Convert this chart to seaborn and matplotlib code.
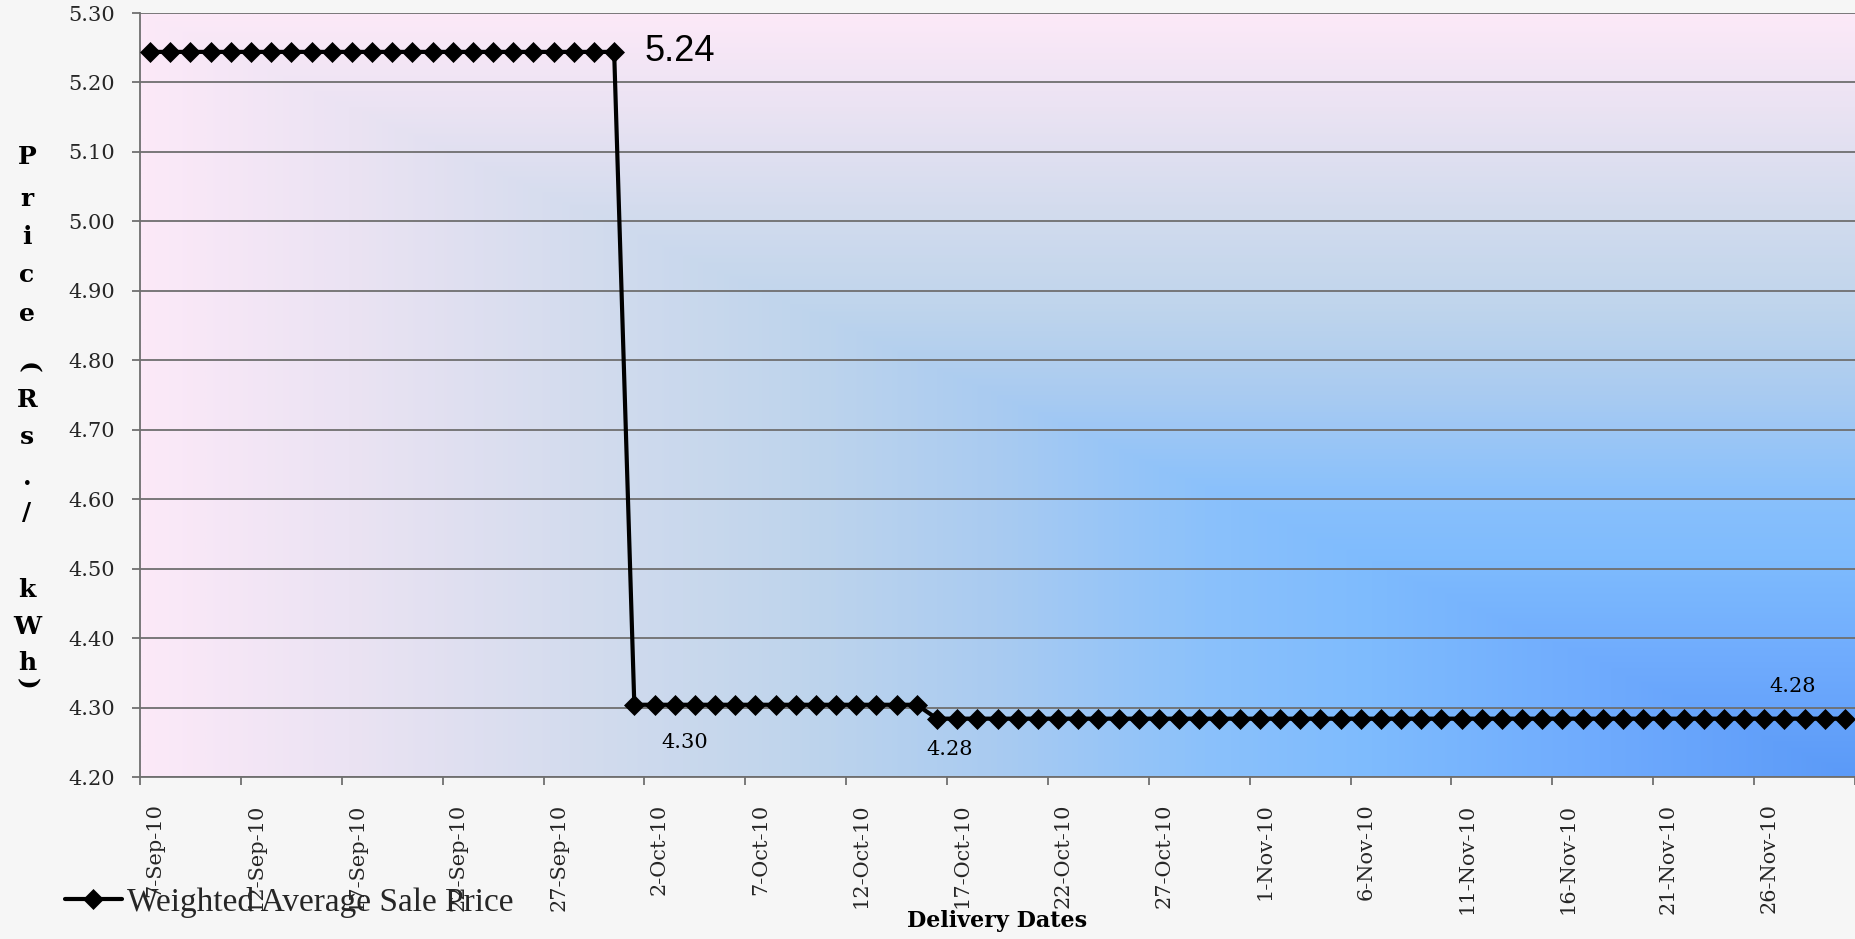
import numpy as np
import pandas as pd
import matplotlib
matplotlib.use("Agg")
import matplotlib.pyplot as plt
from matplotlib.colors import LinearSegmentedColormap
from matplotlib.transforms import ScaledTranslation
import seaborn as sns

# ---- data -------------------------------------------------------------
start_date = "2010-09-07"
n_days = 85
price_high = 5.244     # 7-Sep .. 30-Sep
price_mid = 4.304      # 1-Oct .. 15-Oct
price_low = 4.284      # 16-Oct .. 30-Nov
days_high = 24
days_mid = 15
days_low = 46

series_name = "Weighted Average Sale Price"
x_title = "Delivery Dates"
y_title_chars = ["P", "r", "i", "c", "e", "(", "R", "s", ".", "/", "k", "W", "h", ")"]

y_ticks = [4.20, 4.30, 4.40, 4.50, 4.60, 4.70, 4.80, 4.90, 5.00, 5.10, 5.20, 5.30]
x_tick_dates = ["2010-09-07", "2010-09-12", "2010-09-17", "2010-09-22", "2010-09-27",
                "2010-10-02", "2010-10-07", "2010-10-12", "2010-10-17", "2010-10-22",
                "2010-10-27", "2010-11-01", "2010-11-06", "2010-11-11", "2010-11-16",
                "2010-11-21", "2010-11-26"]
x_tick_labels = ["7-Sep-10", "12-Sep-10", "17-Sep-10", "22-Sep-10", "27-Sep-10",
                 "2-Oct-10", "7-Oct-10", "12-Oct-10", "17-Oct-10", "22-Oct-10",
                 "27-Oct-10", "1-Nov-10", "6-Nov-10", "11-Nov-10", "16-Nov-10",
                 "21-Nov-10", "26-Nov-10"]

# data labels: index of the labelled point
label_points = [23, 24, 39, 81]

dates = pd.date_range(start_date, periods=n_days, freq="D")
prices = np.array([price_high] * days_high + [price_mid] * days_mid + [price_low] * days_low)
df = pd.DataFrame({"date": dates, "price": prices})

# ---- figure -----------------------------------------------------------
W, H, DPI = 1856, 939, 100
sns.set_theme(style="white")
plt.rcParams["font.family"] = ["DejaVu Serif"]
SERIF = ["DejaVu Serif"]

fig = plt.figure(figsize=(W / DPI, H / DPI), dpi=DPI)
fig.patch.set_facecolor("#f6f6f6")

left, right, top, bottom = 140, 1855, 13, 777
pos = [left / W, 1 - bottom / H, (right - left) / W, (bottom - top) / H]

# gradient plot-area fill (pink corner top-left, blue corner bottom-right)
bg = fig.add_axes(pos, zorder=0)
grad_cmap = LinearSegmentedColormap.from_list(
    "plotfill",
    [(0.00, "#fce9f8"), (0.12, "#ebe3f3"), (0.25, "#d4dcee"), (0.38, "#c0d5ec"),
     (0.50, "#a9cbf1"), (0.62, "#8bc1fb"), (0.72, "#7ebbfe"), (0.86, "#6eaafd"),
     (1.00, "#5b9af8")])
gu = np.linspace(0, 1, 600)
gv = np.linspace(0, 1, 400)
U, V = np.meshgrid(gu, gv)
bg.imshow(np.minimum(U, V), cmap=grad_cmap, aspect="auto", origin="upper",
          extent=(0, 1, 0, 1), interpolation="bilinear")
bg.set_axis_off()

ax = fig.add_axes(pos, zorder=1)
ax.set_facecolor("none")

plot_x = df["date"] + pd.Timedelta(hours=12)
sns.lineplot(x=plot_x, y=df["price"], ax=ax, color="black", linewidth=3,
             marker="D", markersize=10, markeredgecolor="black", markeredgewidth=0.5,
             label=series_name, legend=False, zorder=5)

# axes limits and grid
ax.set_ylim(y_ticks[0], y_ticks[-1])
ax.set_xlim(pd.Timestamp(start_date), pd.Timestamp(start_date) + pd.Timedelta(days=n_days))
ax.set_yticks(y_ticks)
ax.set_yticklabels([f"{v:.2f}" for v in y_ticks], fontsize=15, family=SERIF)
ax.yaxis.grid(True, color="#6f6f6f", linewidth=1.3)
ax.xaxis.grid(False)
ax.set_axisbelow(True)

tick_pos = [pd.Timestamp(d) for d in x_tick_dates] + [pd.Timestamp(start_date) + pd.Timedelta(days=n_days)]
ax.set_xticks(tick_pos)
ax.set_xticklabels([])
ax.set_xticks([pd.Timestamp(d) + pd.Timedelta(hours=12) for d in x_tick_dates], minor=True)
ax.set_xticklabels(x_tick_labels, minor=True, rotation=90, fontsize=15, family=SERIF)
ax.tick_params(axis="x", which="major", direction="out", length=6, width=1.3,
               color="#6f6f6f", bottom=True)
ax.tick_params(axis="x", which="minor", length=0, pad=19, bottom=True)
ax.tick_params(axis="y", direction="out", length=6, width=1.3, color="#6f6f6f",
               left=True, pad=12)
shift = ScaledTranslation(5 / DPI, 0, fig.dpi_scale_trans)
for lbl in ax.get_xticklabels(minor=True):
    lbl.set_transform(lbl.get_transform() + shift)

for side in ["top", "right"]:
    ax.spines[side].set_visible(False)
for side in ["left", "bottom"]:
    ax.spines[side].set_color("#6f6f6f")
    ax.spines[side].set_linewidth(1.3)

ax.set_xlabel("")
ax.set_ylabel("")

# data labels
label_style = [
    dict(offset=(22, 0), ha="left", va="center", fontsize=26,
         family=["Liberation Sans"]),
    dict(offset=(36, -27), ha="center", va="center", fontsize=15, family=SERIF),
    dict(offset=(9, -22), ha="center", va="center", fontsize=15, family=SERIF),
    dict(offset=(6, 23), ha="center", va="center", fontsize=15, family=SERIF),
]
for idx, style in zip(label_points, label_style):
    st = dict(style)
    off = st.pop("offset")
    ax.annotate(f"{prices[idx]:.2f}", xy=(plot_x.iloc[idx], prices[idx]),
                xytext=off, textcoords="offset points", color="black", **st)

# vertical stacked axis title
title_y = [157, 199, 237, 275, 314, 368, 400, 437, 478, 513, 590, 627, 663, 684]
for ch, py in zip(y_title_chars, title_y):
    rot = -90 if ch in "()" else 0
    fig.text(27 / W, 1 - py / H, ch, ha="center", va="center", rotation=rot,
             fontsize=18, fontweight="bold", color="black", family=SERIF)

fig.text(997 / W, 1 - 921 / H, x_title, ha="center", va="center",
         fontsize=16, fontweight="bold", color="black", family=SERIF)

# legend
handles, labels = ax.get_legend_handles_labels()
fig.legend(handles, labels, loc="center left", bbox_to_anchor=(65 / W, 1 - 902 / H),
           frameon=False, handlelength=1.7, handletextpad=0.15,
           borderaxespad=0, borderpad=0,
           prop={"family": ["Liberation Serif"], "size": 24})

fig.savefig("out.png", dpi=DPI, facecolor=fig.get_facecolor())
